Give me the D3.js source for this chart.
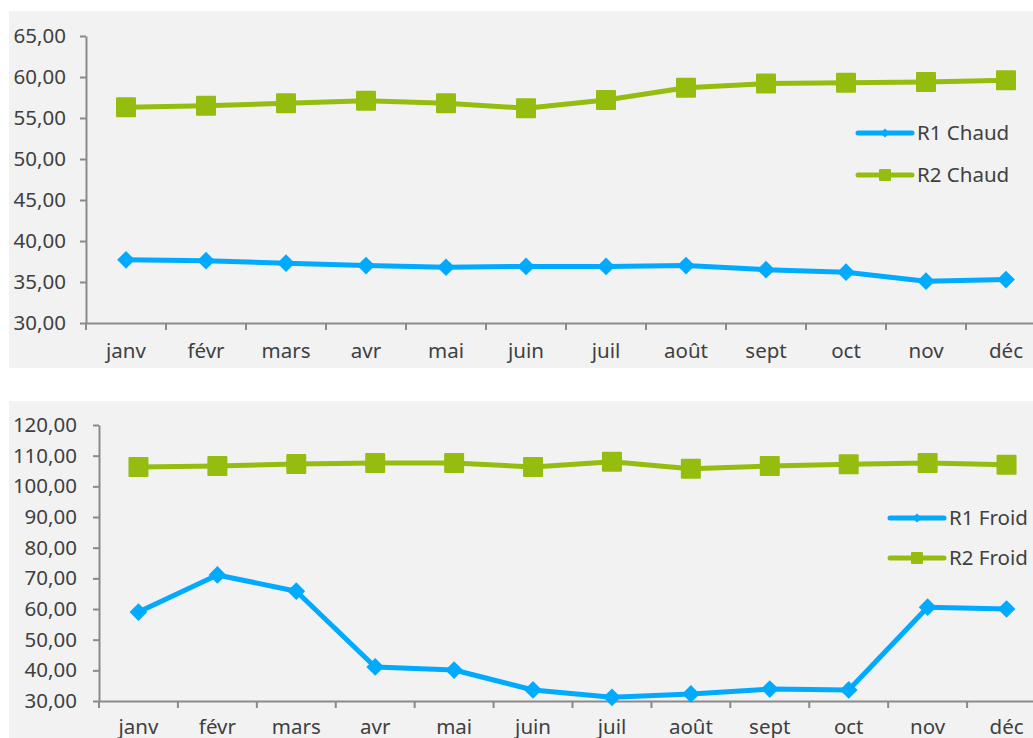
<!DOCTYPE html>
<html>
<head>
<meta charset="utf-8">
<script src="https://cdn.jsdelivr.net/npm/d3@7"></script>
<style>
  body { margin: 0; background: #fff; }
  svg { display: block; font-family: "Noto Sans", "DejaVu Sans", sans-serif; }
</style>
</head>
<body>
<div id="chart"></div>
<script>
const months = ['janv', 'févr', 'mars', 'avr', 'mai', 'juin', 'juil', 'août', 'sept', 'oct', 'nov', 'déc']

const r1Chaud = [37.7, 37.6, 37.3, 37.0, 36.8, 36.9, 36.9, 37.0, 36.5, 36.2, 35.1, 35.3]
const r2Chaud = [56.3, 56.5, 56.8, 57.1, 56.8, 56.2, 57.2, 58.7, 59.2, 59.3, 59.4, 59.6]
const chaudTicks = [30, 35, 40, 45, 50, 55, 60, 65]

const r1Froid = [59.0, 71.1, 65.8, 41.1, 40.1, 33.6, 31.2, 32.3, 33.9, 33.6, 60.6, 60.0]
const r2Froid = [106.3, 106.6, 107.3, 107.6, 107.6, 106.3, 108.0, 105.7, 106.6, 107.2, 107.6, 107.0]
const froidTicks = [30, 40, 50, 60, 70, 80, 90, 100, 110, 120]

const blue = '#00aaff'
const green = '#95bd0f'
const textColor = '#404040'
const axisColor = '#8a8a8a'
const fontFamily = '"Noto Sans", "DejaVu Sans", sans-serif'
const fontSize = '20.5px'

const svg = d3.select('#chart')
    .append('svg')
    .attr('width', 1033)
    .attr('height', 738)

const fmt = d => d.toFixed(2).replace('.', ',')

function drawChart(opts) {
    const g = svg.append('g')

    // panel background
    g.append('rect')
        .attr('x', 9)
        .attr('y', opts.top)
        .attr('width', 1033 - 9)
        .attr('height', opts.bottom - opts.top)
        .attr('fill', '#f2f2f2')

    const x = d3.scaleBand().domain(months).range([opts.left, 1046]).padding(0)
    const y = d3.scaleLinear().domain(d3.extent(opts.ticks)).range([opts.y0, opts.y1])

    // y axis
    const yAxis = g.append('g')
        .attr('transform', `translate(${opts.left},0)`)
        .call(d3.axisLeft(y).tickValues(opts.ticks).tickFormat(fmt).tickSize(6).tickSizeOuter(0).tickPadding(opts.yPad))
    yAxis.select('.domain').attr('stroke', axisColor).attr('stroke-width', 2)
    yAxis.selectAll('.tick line').attr('stroke', axisColor).attr('stroke-width', 2)
    yAxis.selectAll('text').attr('fill', textColor).style('font-size', fontSize).style('font-family', fontFamily)

    // x axis
    const xAxis = g.append('g')
        .attr('transform', `translate(0,${opts.y0})`)
        .call(d3.axisBottom(x).tickSize(0).tickSizeOuter(0).tickPadding(opts.xPad))
    xAxis.select('.domain').attr('stroke', axisColor).attr('stroke-width', 2)
    xAxis.selectAll('text').attr('fill', textColor).style('font-size', fontSize).style('font-family', fontFamily)
    xAxis.selectAll('.edge')
        .data(months.map(m => x(m)))
        .enter().append('line')
        .attr('x1', d => d).attr('x2', d => d)
        .attr('y1', 0).attr('y2', 7)
        .attr('stroke', axisColor).attr('stroke-width', 2)

    const cx = m => x(m) + x.bandwidth() / 2
    const line = d3.line().x((d, i) => cx(months[i])).y(d => y(d))

    // series 1: diamonds
    g.append('path').datum(opts.s1)
        .attr('d', line).attr('fill', 'none')
        .attr('stroke', blue).attr('stroke-width', 5).attr('stroke-linejoin', 'round')
    g.selectAll('.s1pt').data(opts.s1).enter().append('path')
        .attr('d', d3.symbol(d3.symbolDiamond2, 200))
        .attr('transform', (d, i) => `translate(${cx(months[i])},${y(d)})`)
        .attr('fill', blue)

    // series 2: squares
    g.append('path').datum(opts.s2)
        .attr('d', line).attr('fill', 'none')
        .attr('stroke', green).attr('stroke-width', 5).attr('stroke-linejoin', 'round')
    g.selectAll('.s2pt').data(opts.s2).enter().append('rect')
        .attr('x', (d, i) => cx(months[i]) - 10)
        .attr('y', d => y(d) - 10)
        .attr('width', 20).attr('height', 20).attr('rx', 1)
        .attr('fill', green)

    // legend
    const legend = [
        { name: opts.names[0], color: blue, shape: 'diamond' },
        { name: opts.names[1], color: green, shape: 'square' }
    ]
    legend.forEach((l, i) => {
        const ly = opts.legY + i * opts.legGap
        g.append('line')
            .attr('x1', opts.legX).attr('x2', opts.legX + 54)
            .attr('y1', ly).attr('y2', ly)
            .attr('stroke', l.color).attr('stroke-width', 5).attr('stroke-linecap', 'round')
        if (l.shape === 'diamond') {
            g.append('path')
                .attr('d', d3.symbol(d3.symbolDiamond2, 50))
                .attr('transform', `translate(${opts.legX + 27},${ly})`)
                .attr('fill', l.color)
        } else {
            g.append('rect')
                .attr('x', opts.legX + 21).attr('y', ly - 6)
                .attr('width', 12).attr('height', 12).attr('rx', 1)
                .attr('fill', l.color)
        }
        g.append('text')
            .attr('x', opts.legX + 59).attr('y', ly)
            .attr('dy', '0.36em')
            .attr('fill', textColor)
            .style('font-size', fontSize)
            .text(l.name)
    })
}

drawChart({
    top: 11, bottom: 368, left: 86, y0: 323, y1: 36,
    ticks: chaudTicks, s1: r1Chaud, s2: r2Chaud,
    names: ['R1 Chaud', 'R2 Chaud'],
    yPad: 14, xPad: 20,
    legX: 858, legY: 133, legGap: 42
})

drawChart({
    top: 401, bottom: 738, left: 99, y0: 701, y1: 425,
    ticks: froidTicks, s1: r1Froid, s2: r2Froid,
    names: ['R1 Froid', 'R2 Froid'],
    yPad: 16, xPad: 18,
    legX: 890, legY: 518, legGap: 40
})
</script>
</body>
</html>
